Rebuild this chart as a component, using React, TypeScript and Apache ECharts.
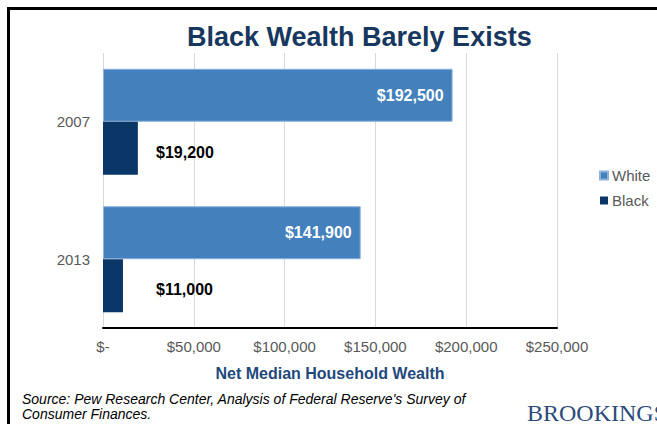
import React, { useEffect, useRef } from "react";
import * as echarts from "echarts";

const years = ["2007", "2013"];
const whiteWealth = [192500, 141900];
const blackWealth = [19200, 11000];
const xTicks = [0, 50000, 100000, 150000, 200000, 250000];

const fmt = (v: number) => "$" + v.toLocaleString("en-US");
const FONT = "Liberation Sans, Arial, sans-serif";

export default function App() {
  const ref = useRef<HTMLDivElement>(null);
  useEffect(() => {
    if (!ref.current) return;
    const chart = echarts.init(ref.current, null, { renderer: "svg" });
    chart.setOption({
      animation: false,
      backgroundColor: "#ffffff",
      textStyle: { fontFamily: FONT },
      title: {
        text: "Black Wealth Barely Exists",
        left: 182,
        top: 18,
        textStyle: { color: "#17375E", fontSize: 27, fontWeight: "bold", fontFamily: FONT },
      },
      legend: {
        orient: "vertical",
        left: 594,
        top: 163,
        itemWidth: 8,
        itemHeight: 8,
        itemGap: 10,
        icon: "rect",
        data: ["White", "Black"],
        textStyle: { color: "#595959", fontSize: 15, fontFamily: FONT, padding: [0, 0, 0, -1] },
      },
      grid: { left: 103, right: 100, top: 53, bottom: 96, containLabel: false },
      xAxis: {
        type: "value",
        min: xTicks[0],
        max: xTicks[xTicks.length - 1],
        interval: 50000,
        name: "Net Median Household Wealth",
        nameLocation: "middle",
        nameGap: 37,
        nameTextStyle: { color: "#1F497D", fontSize: 16, fontWeight: "bold", fontFamily: FONT },
        axisLine: { show: true, lineStyle: { color: "#000000", width: 2 } },
        axisTick: { show: false },
        splitLine: { show: true, lineStyle: { color: "#D9D9D9", width: 1 } },
        axisLabel: {
          color: "#595959",
          fontSize: 15,
          margin: 11,
          fontFamily: FONT,
          formatter: (v: number) => (v === 0 ? "$-" : fmt(v)),
        },
      },
      yAxis: {
        type: "category",
        inverse: true,
        data: years,
        axisLine: { show: false },
        axisTick: { show: false },
        axisLabel: { color: "#595959", fontSize: 15, margin: 13, fontFamily: FONT },
      },
      series: [
        {
          name: "White",
          type: "bar",
          data: whiteWealth,
          barWidth: 53,
          barGap: "0%",
          itemStyle: { color: "#4380BC", borderColor: "#8CB2DA", borderWidth: 1 },
          label: {
            show: true,
            position: "insideRight",
            distance: 9,
            color: "#ffffff",
            fontSize: 16,
            fontWeight: "bold",
            fontFamily: FONT,
            formatter: (p: any) => fmt(p.value),
          },
        },
        {
          name: "Black",
          type: "bar",
          data: blackWealth,
          barWidth: 53,
          barGap: "0%",
          itemStyle: { color: "#0B3768" },
          label: {
            show: true,
            position: "insideLeft",
            distance: 53,
            offset: [0, 4],
            color: "#000000",
            fontSize: 16,
            fontWeight: "bold",
            fontFamily: FONT,
            formatter: (p: any) => fmt(p.value),
          },
        },
      ],
      graphic: [
        { type: "line", shape: { x1: 8.5, y1: 8.5, x2: 8.5, y2: 424 }, style: { stroke: "#000", lineWidth: 3 } },
        { type: "line", shape: { x1: 7, y1: 8.5, x2: 657, y2: 8.5 }, style: { stroke: "#000", lineWidth: 3 } },
        {
          type: "text",
          left: 22,
          top: 391,
          style: {
            text: "Source: Pew Research Center, Analysis of Federal Reserve's Survey of\nConsumer Finances.",
            fill: "#000000",
            font: "italic 14px " + FONT,
            lineHeight: 15,
          },
        },
        {
          type: "text",
          left: 527,
          top: 401,
          style: {
            text: "BROOKINGS",
            fill: "#2C4C7C",
            font: "24px Liberation Serif, Times New Roman, serif",
          },
        },
      ],
    });
    return () => chart.dispose();
  }, []);
  return <div ref={ref} style={{ position: "fixed", left: 0, top: 0, width: 657, height: 424 }} />;
}
